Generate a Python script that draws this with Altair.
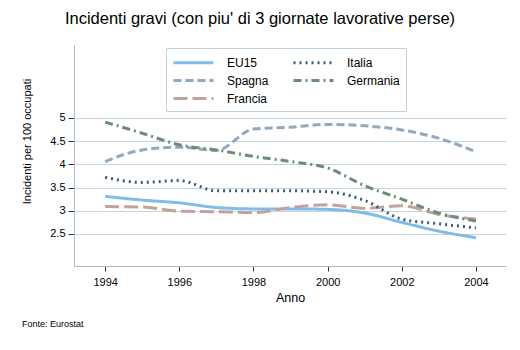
import altair as alt
import pandas as pd

years = [1994, 1995, 1996, 1997, 1998, 1999, 2000, 2001, 2002, 2003, 2004]
eu15 = [3.31, 3.23, 3.17, 3.07, 3.04, 3.04, 3.03, 2.95, 2.75, 2.56, 2.42]
spagna = [4.06, 4.31, 4.37, 4.30, 4.76, 4.80, 4.86, 4.83, 4.74, 4.56, 4.27]
italia = [3.72, 3.61, 3.65, 3.43, 3.43, 3.43, 3.41, 3.22, 2.82, 2.72, 2.63]
germania = [4.91, 4.67, 4.42, 4.31, 4.17, 4.06, 3.92, 3.54, 3.25, 2.95, 2.78]
francia = [3.09, 3.08, 2.99, 2.98, 2.96, 3.07, 3.13, 3.05, 3.11, 2.92, 2.82]

series = {"EU15": eu15, "Italia": italia, "Spagna": spagna, "Germania": germania, "Francia": francia}
order = ["EU15", "Spagna", "Francia", "Italia", "Germania"]
colors = ["#7fbde8", "#92a8c0", "#c2a29a", "#3c5a78", "#6a8c78"]
dashes = [[1, 0], [8, 4], [14, 5], [2, 4], [8, 4, 2, 4]]
widths = [3, 3, 3, 2, 2.5]

rows = []
for name in order:
    for y, v in zip(years, series[name]):
        rows.append({"Anno": y, "valore": v, "serie": name})
df = pd.DataFrame(rows)

FONT = "Liberation Sans"

leg = alt.Legend(
    title=None, orient="none", legendX=92, legendY=3, columns=2,
    symbolType="M-1,0H4.71", symbolSize=196, symbolStrokeWidth=3,
    labelFontSize=12, labelFont=FONT, labelColor="black", labelOffset=38,
    padding=6, columnPadding=18, rowPadding=3,
    fillColor="white", strokeColor="#c3d1dd",
)

lines = alt.Chart(df).mark_line(interpolate="monotone").encode(
    x=alt.X("Anno:Q", scale=alt.Scale(domain=[1993.16, 2004.81], nice=False, zero=False),
            axis=alt.Axis(values=[1994, 1996, 1998, 2000, 2002, 2004], format="d", grid=False,
                          title="Anno", titleFontSize=12.5, titleFont=FONT, titleFontWeight="normal",
                          titleColor="black", titlePadding=4,
                          labelFontSize=11, labelFont=FONT, labelColor="black", labelPadding=5,
                          tickSize=5, tickColor="#333333", domainColor="#a9bccd")),
    y=alt.Y("valore:Q", scale=alt.Scale(domain=[1.81, 6.57], nice=False, zero=False),
            axis=alt.Axis(values=[2.5, 3, 3.5, 4, 4.5, 5], format=".1~f", grid=True, gridColor="#c6d4e0",
                          title="Incidenti per 100 occupati", titleFontSize=11, titleFont=FONT,
                          titleFontWeight="normal", titleColor="black",
                          titleX=-47, titleY=96, titleAngle=-90, titleAlign="center", titleBaseline="middle",
                          labelFontSize=11, labelFont=FONT, labelColor="black", labelPadding=3,
                          tickSize=6, tickColor="#333333", domainColor="#a9bccd")),
    color=alt.Color("serie:N", scale=alt.Scale(domain=order, range=colors), legend=leg, sort=order),
    strokeDash=alt.StrokeDash("serie:N", scale=alt.Scale(domain=order, range=dashes), legend=leg, sort=order),
    strokeWidth=alt.StrokeWidth("serie:N", scale=alt.Scale(domain=order, range=widths), legend=None, sort=order),
)

title_df = pd.DataFrame({"t": ["Incidenti gravi (con piu' di 3 giornate lavorative perse)"]})
title = alt.Chart(title_df).mark_text(fontSize=16.5, font=FONT, color="black", align="center", baseline="alphabetic").encode(
    text="t:N", x=alt.value(186), y=alt.value(-21))

src_df = pd.DataFrame({"t": ["Fonte: Eurostat"]})
src = alt.Chart(src_df).mark_text(fontSize=9, font=FONT, color="black", align="left", baseline="alphabetic").encode(
    text="t:N", x=alt.value(-52), y=alt.value(282))

chart = alt.layer(lines, title, src).properties(
    width=432, height=221,
    autosize=alt.AutoSizeParams(type="none"),
    padding={"left": 74, "top": 45, "right": 14, "bottom": 84},
    background="white",
).configure_view(stroke=None)

chart.save("out.html", embed_options={"renderer": "svg", "actions": False})
